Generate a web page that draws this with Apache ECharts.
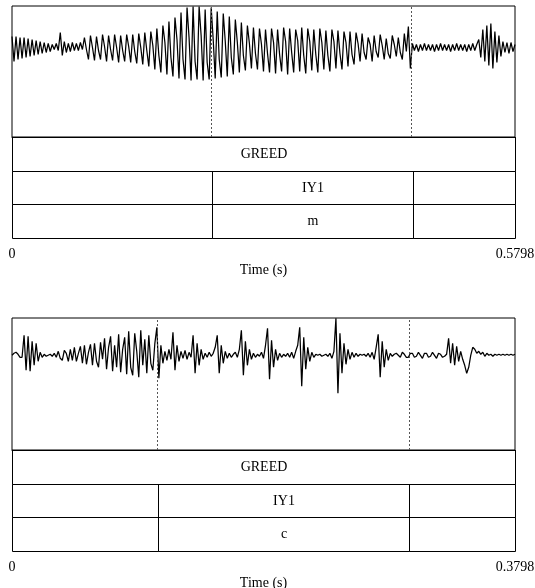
<!DOCTYPE html>
<html>
<head>
<meta charset="utf-8">
<script src="https://cdn.jsdelivr.net/npm/echarts@6/dist/echarts.min.js"></script>
<style>html,body{margin:0;padding:0;background:#fff}#c{width:535px;height:588px}</style>
</head>
<body>
<div id="c"></div>
<script>
// ---------- DATA ----------
// Panel 1 ("GREED", m)
const topDuration = 0.5798;
const topTickLabels = ['0', '0.5798'];
// waveform amplitude samples, evenly spaced over the duration
const topWave = [
  11, -14, 11, -12, 10, -11, 10, -10, 9, -9, 8, -8, 7, -7, 6, -6, 5, -5, 4, -4, 3,
  -2, 4, -3, 15, -8, 6, -5, 4, -4, 5, -3, 4, -3, 5, -2,
  10, -2, -12, 12, 0, -13, 11, -3, -12, 13, 1, -14, 12, -2, -13, 13, 0, -15, 12, -3, -14, 13, 1, -15, 13, -4, -16, 14, 0, -17, 15, -3, -19, 16, 2, -22,
  19, -8, -25, 22, 5, -27, 26, -10, -29, 30, 8, -31, 35, -12, -32, 40, 10, -33, 41, -14, -32, 41, 12, -33, 38, -15, -32, 40,
  8, -31, 36, -12, -30, 34, 6, -29, 31, -10, -27, 28, 5, -25, 25, -8, -23, 22, 4, -21, 20, -6, -22, 19, 3,
  -24, 18, -6, -25, 19, 5, -26, 18, -7, -24, 20, 6, -27, 19, -5, -25, 18, 7, -24, 20, -8, -26, 19, 6, -23, 18, -7, -25, 19, 5, -22, 17, -8, -24, 18, 6, -21, 17, -6, -22, 16, 5, -19, 16, -7, -17, 15, 4, -14,
  14, -5, -12, 10, 3, -14, 12, -4, -10, 13, 2, -12, 9, -6, -11, 12, 3, -9, 10, -5, -12, 14, -4, 21, -21, 4,
  -3, 3, -4, 3, -3, 4, -3, 3, -3, 3, -4, 3, -3, 4, -3, 3, -3, 3, -4, 3, -3, 4, -3, 3, -3, 3, -4, 3, -3, 4, -3, 3,
  8, -10, 18, -14, 22, -18, 24, -21, 16, -15, 12, -9,
  6, -5, 5, -6, 5, -4, 3
];
const topBoundaries = [0.2300, 0.4620];
const topTier1 = [[0, 0.5798, 'GREED']];
const topTier2 = [[0, 0.2300, ''], [0.2300, 0.4620, 'IY1'], [0.4620, 0.5798, '']];
const topTier3 = [[0, 0.2300, ''], [0.2300, 0.4620, 'm'], [0.4620, 0.5798, '']];

// Panel 2 ("GREED", c)
const bottomDuration = 0.3798;
const bottomTickLabels = ['0', '0.3798'];
const bottomWave = [
  0, 2, 3, 1, -2,
  -2, 20, -15, 19, -16, 14, -10, 12, -6,
  3, -2, 1, -1, 0, 1, -1, 2, -2,
  4, -3, -5, 5, 2, -6, 6, -5, 8, -6, 2, 9, -8, 10, -9, 3, 11, -10, 12, -6, -12, 13,
  -4, 17, -14, 8, 19, -16, 10, -12, 21, -17, 6, 18, -19, 24, -12, -20, 22, 4, -22, 25, -10, 16, -18, 20, -8, -15, 12, 28,
  -23, 10, -8, 4, -5, 6, -4, 23, -15, 10, -6, 4, -3, 5, -4, 3, -2,
  20, -18, 12, -10, 6, -4, 2, -2, 3, -1, 2,
  8, 20, -18, 10, -8, 4, -3, 2, -2, 1, 3, -2,
  6, 25, -20, 14, -10, 6, -4, 2, -2, 1, -1, 3, -3,
  10, 27, -24, 15, -12, 6, -5, 2, -2, 1, -1, 2, -2, 3, -3, 4,
  10, 28, -31, 18, -14, 8, -6, 3, -2, 1, 0, 1, -1, 0, 1, -1, 2, -3, 4,
  37, -38, 22, -18, 12, -9, 6, -4, 3, -2, 2, -1, 1, 0, 1, -1, 2, -2, 3, -4,
  8, 21, -22, 14, -12, 6, -5, 2, -1, 1,
  2, 0, -2, 3, 1, -2, -2, 2, 2, -2, -1, 3, 0, -3, 2, 2, -2, -1, 3, 0, -3, 2, 1, -2, -1, 1,
  17, -8, 12, -10, 9, -6,
  4, -4, -10, -18, -12, 0, 8, 6, 2, 4, 1, 3, -1, 2, 0, 1, -1, 1, 0, 1, 0, 1, 0, 1, 0, 1, 0, 1
];
const bottomBoundaries = [0.1099, 0.2999];
const bottomTier1 = [[0, 0.3798, 'GREED']];
const bottomTier2 = [[0, 0.1099, ''], [0.1099, 0.2999, 'IY1'], [0.2999, 0.3798, '']];
const bottomTier3 = [[0, 0.1099, ''], [0.1099, 0.2999, 'c'], [0.2999, 0.3798, '']];

// ---------- BUILD ----------
const FONT = '"Liberation Serif", "Times New Roman", serif';
const grids = [], xAxes = [], yAxes = [], series = [];

function addPanel(cfg) {
  const gw = grids.length;
  grids.push({left: 12, width: 503, top: cfg.waveTop, height: cfg.waveH, show: true,
    borderColor: '#000', borderWidth: 1, backgroundColor: 'transparent', outerBoundsMode: 'none', containLabel: false});
  grids.push({left: 12, width: 503, top: cfg.waveTop + cfg.waveH, height: cfg.tierH, show: false,
    outerBoundsMode: 'none', containLabel: false});
  xAxes.push({gridIndex: gw, type: 'value', min: 0, max: cfg.dur, show: false});
  yAxes.push({gridIndex: gw, type: 'value', min: cfg.yMin, max: cfg.yMax, show: false});
  xAxes.push({gridIndex: gw + 1, type: 'value', min: 0, max: cfg.dur, interval: cfg.dur,
    axisLine: {show: true, lineStyle: {color: '#000', width: 1}},
    axisTick: {show: true, inside: false, length: 4, lineStyle: {color: '#000', width: 1}},
    splitLine: {show: false},
    axisLabel: {margin: 9, showMinLabel: true, showMaxLabel: true,
      formatter: (v, i) => cfg.ticks[i], fontFamily: FONT, fontSize: 14, color: '#000'},
    name: 'Time (s)', nameLocation: 'middle', nameGap: 25,
    nameTextStyle: {fontFamily: FONT, fontSize: 14, color: '#000'}});
  yAxes.push({gridIndex: gw + 1, type: 'value', min: 0, max: 3, inverse: true, show: false});

  const n = cfg.wave.length;
  series.push({
    type: 'line', xAxisIndex: gw, yAxisIndex: gw, silent: true, animation: false,
    showSymbol: false, symbol: 'none', clip: true,
    lineStyle: {color: '#000', width: 1.25},
    data: cfg.wave.map((v, i) => [i * cfg.dur / (n - 1), v]),
    markLine: {silent: true, symbol: 'none', animation: false, label: {show: false},
      lineStyle: {color: '#555', type: [2, 2], width: 1},
      data: cfg.bounds.map(b => ({xAxis: b}))}
  });

  const items = [];
  cfg.tiers.forEach((tier, t) => tier.forEach(iv => items.push([t, iv[0], iv[1], iv[2]])));
  series.push({
    type: 'custom', xAxisIndex: gw + 1, yAxisIndex: gw + 1, silent: true, animation: false,
    data: items.map(it => [it[0], it[1], it[2]]),
    encode: {x: [1, 2], y: 0},
    renderItem: function (params, api) {
      const it = items[params.dataIndex];
      const a = api.coord([it[1], it[0]]);
      const b = api.coord([it[2], it[0] + 1]);
      const x0 = Math.round(a[0]) + 0.5, x1 = Math.round(b[0]) + 0.5;
      const y0 = Math.round(a[1]) + 0.5, y1 = Math.round(b[1]) + 0.5;
      return {type: 'group', children: [
        {type: 'rect', shape: {x: x0, y: y0, width: x1 - x0, height: y1 - y0},
          style: {fill: 'transparent', stroke: '#000', lineWidth: 1}},
        {type: 'text', x: (x0 + x1) / 2, y: (y0 + y1) / 2,
          style: {text: it[3], align: 'center', verticalAlign: 'middle',
            font: '14px ' + FONT, fill: '#000'}}
      ]};
    }
  });
}

addPanel({waveTop: 6, waveH: 131, tierH: 101, yMin: -89.5, yMax: 41.5, dur: topDuration,
  wave: topWave, bounds: topBoundaries, tiers: [topTier1, topTier2, topTier3], ticks: topTickLabels});
addPanel({waveTop: 318, waveH: 132, tierH: 101, yMin: -94.7, yMax: 37.3, dur: bottomDuration,
  wave: bottomWave, bounds: bottomBoundaries, tiers: [bottomTier1, bottomTier2, bottomTier3], ticks: bottomTickLabels});

const chart = echarts.init(document.getElementById('c'), null, {renderer: 'canvas'});
chart.setOption({
  animation: false,
  backgroundColor: '#fff',
  grid: grids, xAxis: xAxes, yAxis: yAxes, series: series
});
</script>
</body>
</html>
